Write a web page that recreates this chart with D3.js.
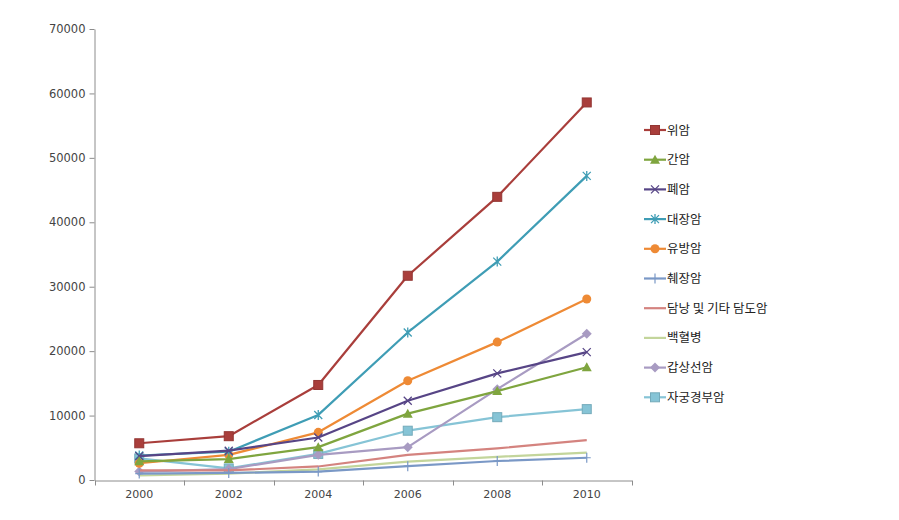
<!DOCTYPE html>
<html><head><meta charset="utf-8">
<script src="https://cdn.jsdelivr.net/npm/d3@7"></script>
<style>body{margin:0;background:#fff}svg{display:block}</style>
</head><body>
<svg id="c" width="899" height="520"></svg>
<script>
const years = ["2000","2002","2004","2006","2008","2010"];
const yTicks = [0,10000,20000,30000,40000,50000,60000,70000];
const seriesNames = ["위암","간암","폐암","대장암","유방암","췌장암","담낭 및 기타 담도암","백혈병","갑상선암","자궁경부암"];
const stomach  = [5700, 6800, 14750, 31700, 43950, 58600];
const liver    = [2900, 3250, 5100, 10300, 13800, 17500];
const lung     = [3700, 4550, 6600, 12300, 16550, 19850];
const colon    = [3800, 4400, 10100, 22900, 33900, 47200];
const breast   = [2600, 3900, 7400, 15400, 21400, 28100];
const pancreas = [1000, 1100, 1300, 2150, 2950, 3450];
const biliary  = [1500, 1500, 2100, 3900, 4900, 6200];
const leukemia = [700, 1000, 1650, 2850, 3600, 4250];
const thyroid  = [1300, 1700, 3900, 5100, 14100, 22700];
const cervix   = [3350, 1800, 4050, 7650, 9750, 11000];
const values = [stomach, liver, lung, colon, breast, pancreas, biliary, leukemia, thyroid, cervix];
const colors = ["#A93E3B","#7FA53F","#574586","#3F9DB5","#EE8A35","#7A98C6","#D4837F","#C3D59B","#A89BC2","#86C4D6"];
const markers = ["square","triangle","x","asterisk","circle","plus","none","none","diamond","square"];

const svg = d3.select("#c");
const x = d3.scaleBand().domain(years).range([94.5, 631.5]).padding(0);
const y = d3.scaleLinear().domain([0,70000]).range([480,29]);
const cx = d => x(d) + x.bandwidth()/2;
const axisColor = "#8c8c8c";

// Y axis
const ya = svg.append("g").attr("transform","translate(94.5,0)")
  .call(d3.axisLeft(y).tickValues(yTicks).tickSize(5).tickSizeOuter(0).tickPadding(4).tickFormat(d3.format("d")));
ya.select(".domain").attr("stroke",axisColor);
ya.selectAll(".tick line").attr("stroke",axisColor);
ya.selectAll("text").attr("font-family","DejaVu Sans").attr("font-size","11.5px").attr("fill","#444");

// X axis
const xa = svg.append("g").attr("transform","translate(0,480.5)")
  .call(d3.axisBottom(x).tickSize(0).tickSizeOuter(0).tickPadding(10));
xa.select(".domain").attr("stroke",axisColor);
xa.selectAll("text").attr("font-family","DejaVu Sans").attr("font-size","11px").attr("fill","#444");
const bounds = years.map(d => x(d)).concat([x.range()[1]]);
xa.selectAll(".bt").data(bounds).enter().append("line").attr("class","bt")
  .attr("x1",d=>Math.round(d)+0.5).attr("x2",d=>Math.round(d)+0.5).attr("y1",0).attr("y2",5).attr("stroke",axisColor);

function drawMarker(g, type, color, px, py) {
  const s = 4.5;
  if (type === "square") {
    g.append("rect").attr("x",px-s).attr("y",py-s).attr("width",2*s).attr("height",2*s).attr("fill",color).attr("stroke",d3.color(color).darker(0.4));
  } else if (type === "triangle") {
    g.append("path").attr("d",`M${px},${py-5}L${px+5},${py+4}L${px-5},${py+4}Z`).attr("fill",color);
  } else if (type === "circle") {
    g.append("circle").attr("cx",px).attr("cy",py).attr("r",4.5).attr("fill",color);
  } else if (type === "diamond") {
    g.append("path").attr("d",`M${px},${py-5}L${px+5},${py}L${px},${py+5}L${px-5},${py}Z`).attr("fill",color);
  } else if (type === "x") {
    g.append("path").attr("d",`M${px-4},${py-4}L${px+4},${py+4}M${px-4},${py+4}L${px+4},${py-4}`).attr("stroke",color).attr("stroke-width",1.3);
  } else if (type === "asterisk") {
    g.append("path").attr("d",`M${px-4},${py-4}L${px+4},${py+4}M${px-4},${py+4}L${px+4},${py-4}M${px},${py-5}L${px},${py+5}`).attr("stroke",color).attr("stroke-width",1.3);
  } else if (type === "plus") {
    g.append("path").attr("d",`M${px-4},${py}L${px+4},${py}M${px},${py-5}L${px},${py+5}`).attr("stroke",color).attr("stroke-width",1.2);
  }
}

const line = d3.line().x((d,i)=>cx(years[i])).y(d=>y(d));
// draw in reverse so first series on top
for (let k = values.length-1; k >= 0; k--) {
  const g = svg.append("g");
  g.append("path").attr("d",line(values[k])).attr("fill","none").attr("stroke",colors[k]).attr("stroke-width",2.2).attr("stroke-linejoin","round");
  values[k].forEach((v,i)=>drawMarker(g, markers[k], colors[k], cx(years[i]), y(v)));
}

// Legend
const lg = svg.append("g");
seriesNames.forEach((n,i)=>{
  const ly = 130 + i*29.7;
  const g = lg.append("g");
  g.append("line").attr("x1",644).attr("x2",666).attr("y1",ly).attr("y2",ly).attr("stroke",colors[i]).attr("stroke-width",2.2);
  drawMarker(g, markers[i], colors[i], 655, ly);
  g.append("text").attr("x",667).attr("y",ly).attr("dy","0.36em").attr("font-family","Noto Sans CJK KR").attr("font-size","12.5px").attr("fill","#222").text(n);
});
</script>
</body></html>
